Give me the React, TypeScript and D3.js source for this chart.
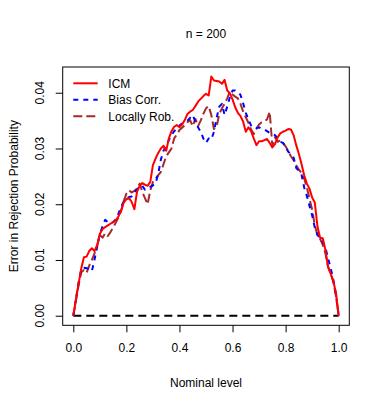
import React, { useRef, useEffect } from "react";
import * as d3 from "d3";

// nominal levels 0.00 .. 1.00 step 0.01
const levels: number[] = Array.from({ length: 101 }, (_, i) => i / 100);

const icm: number[] = [
  0, 0.003, 0.0058, 0.0085, 0.0105, 0.0106, 0.0116, 0.0121, 0.0116, 0.0127,
  0.0147, 0.0155, 0.0159, 0.0162, 0.0165, 0.0168, 0.0171, 0.0178, 0.0188, 0.0203,
  0.0209, 0.0211, 0.0204, 0.0191, 0.0222, 0.0233, 0.0238, 0.0235, 0.0233, 0.024,
  0.027, 0.0282, 0.0292, 0.03, 0.0305, 0.0296, 0.0318, 0.0331, 0.0339, 0.0342,
  0.0338, 0.0343, 0.0351, 0.0362, 0.0366, 0.0369, 0.0376, 0.0384, 0.0389, 0.0394,
  0.0398, 0.0395, 0.0429, 0.0422, 0.0421, 0.042, 0.0416, 0.0423, 0.0404, 0.0399,
  0.0388, 0.0374, 0.0364, 0.0358, 0.0348, 0.033, 0.0338, 0.0331, 0.0318, 0.0306,
  0.0313, 0.0313, 0.0315, 0.0317, 0.031, 0.0302, 0.0308, 0.032, 0.0327, 0.033,
  0.0332, 0.0335, 0.0334, 0.0324, 0.0306, 0.029, 0.0272, 0.0252, 0.0237, 0.0228,
  0.0212, 0.0203, 0.016, 0.014, 0.0139, 0.0118, 0.0087, 0.0075, 0.0062, 0.004,
  0,
];

const biasCorr: number[] = [
  0, 0.003, 0.006, 0.0083, 0.0086, 0.0085, 0.0084, 0.008, 0.0101, 0.0124,
  0.0147, 0.016, 0.0172, 0.0168, 0.0166, 0.0168, 0.0173, 0.0183, 0.0195, 0.0205,
  0.021, 0.0213, 0.0214, 0.022, 0.0227, 0.0232, 0.0233, 0.0226, 0.0228, 0.0231,
  0.0234, 0.0237, 0.0255, 0.028, 0.0296, 0.0305, 0.0315, 0.0324, 0.0331, 0.0336,
  0.0341, 0.0345, 0.0347, 0.035, 0.0355, 0.036, 0.0348, 0.0338, 0.033, 0.0318,
  0.031, 0.0318, 0.0316, 0.033, 0.0355, 0.0375, 0.038, 0.036, 0.0375, 0.0392,
  0.0404, 0.0404, 0.0402, 0.0396, 0.0381, 0.0364, 0.0352, 0.0341, 0.0337, 0.0336,
  0.0338, 0.0335, 0.0334, 0.0331, 0.0328, 0.0326, 0.0324, 0.0318, 0.0312, 0.031,
  0.0303, 0.0294, 0.029, 0.0284, 0.0265, 0.026, 0.0253, 0.023, 0.0215, 0.0197,
  0.018, 0.0158, 0.0145, 0.0139, 0.0133, 0.0122, 0.0103, 0.0085, 0.0064, 0.0037,
  0,
];

const locallyRob: number[] = [
  0, 0.0027, 0.0055, 0.0078, 0.0082, 0.0077, 0.009, 0.01, 0.0112, 0.0125,
  0.0145, 0.014, 0.0148, 0.0143, 0.015, 0.0158, 0.0167, 0.0176, 0.0188, 0.0205,
  0.0219, 0.0225, 0.0221, 0.0224, 0.0228, 0.0237, 0.0222, 0.0211, 0.02, 0.0225,
  0.024, 0.0246, 0.0252, 0.0258, 0.0272, 0.0286, 0.0293, 0.03, 0.0318, 0.0325,
  0.0333, 0.0337, 0.0342, 0.0347, 0.0351, 0.034, 0.0353, 0.034, 0.035, 0.0362,
  0.0372, 0.0376, 0.036, 0.0335, 0.0339, 0.0362, 0.0372, 0.038, 0.039, 0.0402,
  0.0397, 0.0393, 0.039, 0.038, 0.0366, 0.0356, 0.0346, 0.0334, 0.0326, 0.0336,
  0.0343, 0.0347, 0.0349, 0.0352, 0.0366, 0.0305, 0.032, 0.0312, 0.0315, 0.031,
  0.0304, 0.0295, 0.0286, 0.0279, 0.027, 0.0262, 0.0256, 0.0246, 0.023, 0.021,
  0.019, 0.0162, 0.0145, 0.0138, 0.0127, 0.0112, 0.0088, 0.0076, 0.006, 0.0035,
  0,
];

const zeroLevels: number[] = [0, 1];
const zeroValues: number[] = [0, 0];

const xTicks: number[] = [0, 0.2, 0.4, 0.6, 0.8, 1.0];
const yTicks: number[] = [0, 0.01, 0.02, 0.03, 0.04];

const legendLabels: string[] = ["ICM", "Bias Corr.", "Locally Rob."];

const W = 382;
const H = 409;
const FONT = "'Liberation Sans', Arial, Helvetica, sans-serif";

export default function App() {
  const svgRef = useRef<SVGSVGElement>(null);

  useEffect(() => {
    const svg = d3.select(svgRef.current);
    svg.selectAll("*").remove();

    const left = 62.7, right = 349.3, top = 67, bottom = 325.3;

    const x = d3.scaleLinear().domain([-0.04, 1.04]).range([left, right]);
    const yMax = 0.0429;
    const pad = yMax * 0.04;
    const y = d3.scaleLinear().domain([-pad, yMax + pad]).range([bottom, top]);

    const series = [
      { xs: levels, ys: icm, color: "#FF0000", dash: null as string | null },
      { xs: levels, ys: biasCorr, color: "#0000FF", dash: "5,5" },
      { xs: levels, ys: locallyRob, color: "#A52A2A", dash: "9,4" },
      { xs: zeroLevels, ys: zeroValues, color: "#000000", dash: "8,5" },
    ];

    const line = d3
      .line<[number, number]>()
      .x((d) => x(d[0]))
      .y((d) => y(d[1]));

    // draw order: zero line, then curves (ICM on top of others as in R order)
    const order = [3, 2, 1, 0];
    order.forEach((i) => {
      const s = series[i];
      const pts = s.xs.map((v, j) => [v, s.ys[j]] as [number, number]);
      svg
        .append("path")
        .attr("d", line(pts))
        .attr("fill", "none")
        .attr("stroke", s.color)
        .attr("stroke-width", 2)
        .attr("stroke-dasharray", s.dash)
        .attr("stroke-linejoin", "round");
    });

    // box
    svg
      .append("rect")
      .attr("x", left)
      .attr("y", top)
      .attr("width", right - left)
      .attr("height", bottom - top)
      .attr("fill", "none")
      .attr("stroke", "#000")
      .attr("stroke-width", 1);

    // x axis
    const xAxis = d3
      .axisBottom(x)
      .tickValues(xTicks)
      .tickFormat(d3.format(".1f"))
      .tickSize(7)
      .tickPadding(11);
    const gx = svg.append("g").attr("transform", `translate(0,${bottom})`).call(xAxis);
    gx.select(".domain").remove();
    gx.selectAll("text").attr("font-size", 12).attr("font-family", FONT).attr("fill", "#000");

    // y axis, labels rotated like R
    const yAxis = d3.axisLeft(y).tickValues(yTicks).tickFormat(() => "").tickSize(7);
    const gy = svg.append("g").attr("transform", `translate(${left},0)`).call(yAxis);
    gy.select(".domain").remove();
    svg
      .selectAll(".ylab")
      .data(yTicks)
      .join("text")
      .attr("class", "ylab")
      .attr("transform", (d) => `translate(44,${y(d)}) rotate(-90)`)
      .attr("text-anchor", "middle")
      .attr("font-size", 12)
      .attr("font-family", FONT)
      .text((d) => d3.format(".2f")(d));

    // titles
    svg
      .append("text")
      .attr("x", (left + right) / 2)
      .attr("y", 38)
      .attr("text-anchor", "middle")
      .attr("font-size", 12)
      .attr("font-family", FONT)
      .text("n = 200");
    svg
      .append("text")
      .attr("x", (left + right) / 2)
      .attr("y", 387)
      .attr("text-anchor", "middle")
      .attr("font-size", 12)
      .attr("font-family", FONT)
      .text("Nominal level");
    svg
      .append("text")
      .attr("transform", `translate(18,${(top + bottom) / 2}) rotate(-90)`)
      .attr("text-anchor", "middle")
      .attr("font-size", 12)
      .attr("font-family", FONT)
      .text("Error in Rejection Probability");

    // legend
    const lg = svg.append("g");
    legendLabels.forEach((lab, i) => {
      const ly = 83.3 + i * 16.5;
      const s = series[i];
      lg.append("line")
        .attr("x1", 73.3)
        .attr("x2", 97.7)
        .attr("y1", ly)
        .attr("y2", ly)
        .attr("stroke", s.color)
        .attr("stroke-width", 2)
        .attr("stroke-dasharray", s.dash);
      lg.append("text")
        .attr("x", 108.3)
        .attr("y", ly + 4.5)
        .attr("font-size", 12)
        .attr("font-family", FONT)
        .text(lab);
    });
  }, []);

  return (
    <svg
      ref={svgRef}
      width={W}
      height={H}
      style={{ position: "absolute", left: 0, top: 0, background: "#fff" }}
    />
  );
}
